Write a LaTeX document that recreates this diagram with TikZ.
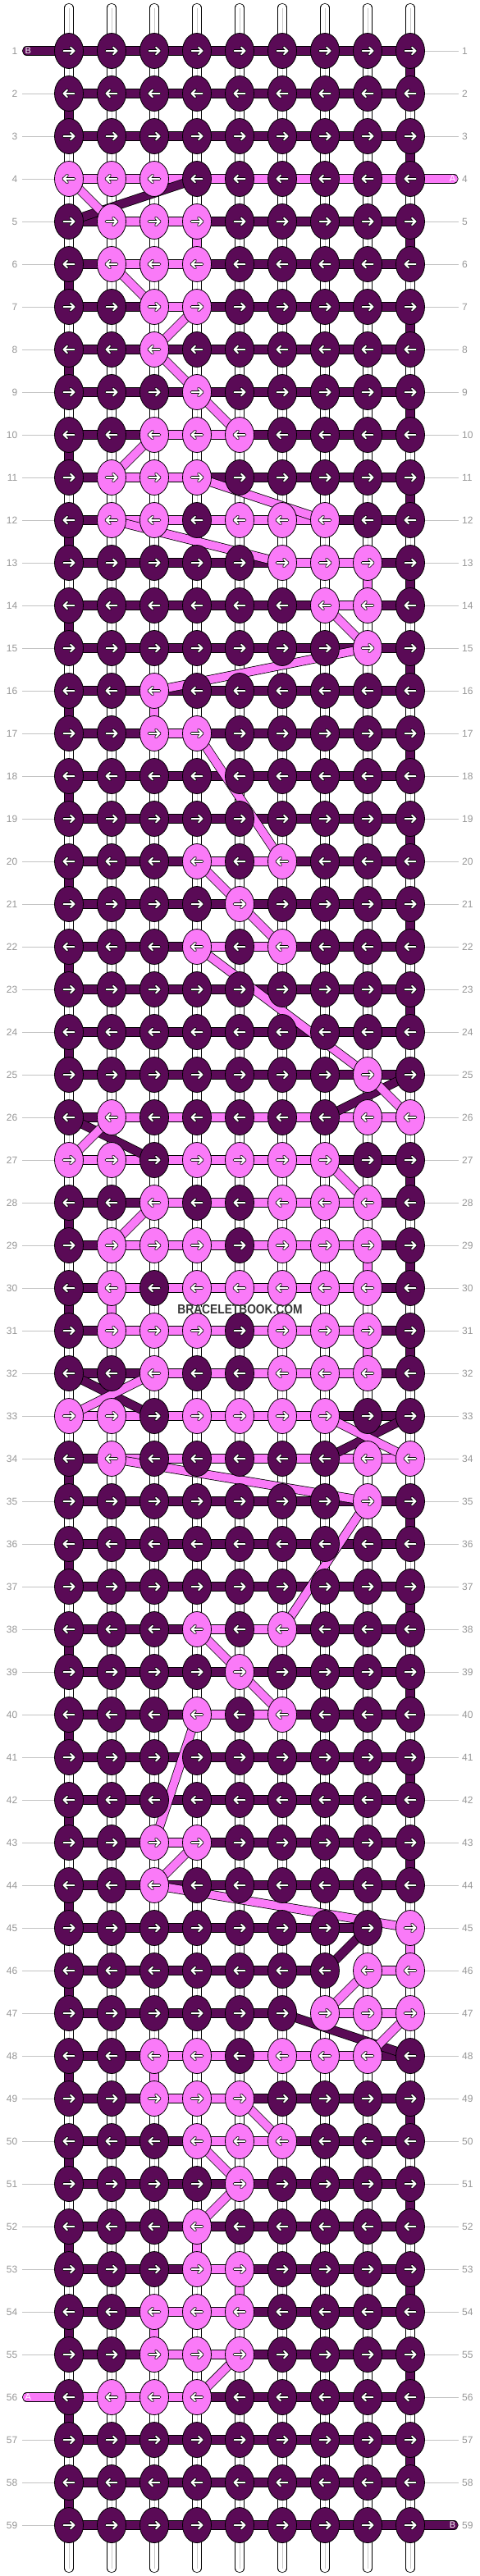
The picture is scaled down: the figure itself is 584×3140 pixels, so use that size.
\documentclass[tikz,border=0pt]{standalone}
\usepackage{fontspec}
\setmainfont{Liberation Sans}
\usepackage{graphicx}
\usetikzlibrary{shapes.geometric}
\definecolor{cD}{RGB}{90,10,86}
\definecolor{cP}{RGB}{250,122,248}
\definecolor{lblgray}{RGB}{150,150,150}
\definecolor{linegray}{RGB}{195,195,195}
\definecolor{coregray}{RGB}{200,200,200}
\definecolor{wmgray}{RGB}{55,55,55}
\pgfdeclarelayer{strings}
\pgfdeclarelayer{bars}
\pgfdeclarelayer{diagB}
\pgfdeclarelayer{diagA}
\pgfsetlayers{strings,bars,diagB,diagA,main}
\def\nonestr{none}
\tikzset{
 knot/.style={ellipse, draw=black, line width=0.8pt, minimum width=35pt, minimum height=43pt, inner sep=0pt},
 thr/.style={draw=black, line width=0.8pt, double distance=9.6pt},
 strline/.style={thr, double=white, line cap=round},
 strcore/.style={draw=coregray, line width=1pt},
 arrB/.style={draw=black, line width=3.6pt, line cap=round, line join=round},
 arrW/.style={draw=white, line width=2pt, line cap=round, line join=round},
 rowlbl/.style={text=lblgray, font=\fontsize{12}{12}\selectfont, inner sep=0pt},
 lblline/.style={draw=linegray, line width=0.8pt},
 taillbl/.style={text=white, font=\fontsize{11}{11}\selectfont, inner sep=0pt},
 wmark/.style={text=wmgray, font=\bfseries\fontsize{16}{16}\selectfont, inner sep=0pt},
}
\begin{document}
\begin{tikzpicture}[x=1pt,y=-1pt]
\useasboundingbox (0,0) rectangle (584,3140);
% vertical strings
\begin{pgfonlayer}{strings}
\foreach \c in {1,...,9} {
  \pgfmathsetmacro\xx{32+52*\c}
  \coordinate (st-\c) at (\xx,9.5);
  \coordinate (sb-\c) at (\xx,3130.5);
  \draw[strline] (st-\c) -- (sb-\c);
  \draw[strcore] (st-\c) -- (sb-\c);
}
\end{pgfonlayer}
% rows: r / knots / A run / B run
\foreach \r/\pat/\aL/\aR/\bL/\bR in {
1/{D,D,D,D,D,D,D,D,D}/0/0/1/9,
2/{D,D,D,D,D,D,D,D,D}/0/0/1/9,
3/{D,D,D,D,D,D,D,D,D}/0/0/1/9,
4/{P,P,P,D,D,D,D,D,D}/1/9/4/9,
5/{D,P,P,P,D,D,D,D,D}/2/4/1/9,
6/{D,P,P,P,D,D,D,D,D}/2/4/1/9,
7/{D,D,P,P,D,D,D,D,D}/3/4/1/9,
8/{D,D,P,D,D,D,D,D,D}/3/3/1/9,
9/{D,D,D,P,D,D,D,D,D}/4/4/1/9,
10/{D,D,P,P,P,D,D,D,D}/3/5/1/9,
11/{D,P,P,P,D,D,D,D,D}/2/4/1/9,
12/{D,P,P,D,P,P,P,D,D}/2/7/1/9,
13/{D,D,D,D,D,P,P,P,D}/6/8/1/9,
14/{D,D,D,D,D,D,P,P,D}/7/8/1/9,
15/{D,D,D,D,D,D,D,P,D}/8/8/1/9,
16/{D,D,P,D,D,D,D,D,D}/3/3/1/9,
17/{D,D,P,P,D,D,D,D,D}/3/4/1/9,
18/{D,D,D,D,D,D,D,D,D}/0/0/1/9,
19/{D,D,D,D,D,D,D,D,D}/0/0/1/9,
20/{D,D,D,P,D,P,D,D,D}/4/6/1/9,
21/{D,D,D,D,P,D,D,D,D}/5/5/1/9,
22/{D,D,D,P,D,P,D,D,D}/4/6/1/9,
23/{D,D,D,D,D,D,D,D,D}/0/0/1/9,
24/{D,D,D,D,D,D,D,D,D}/0/0/1/9,
25/{D,D,D,D,D,D,D,P,D}/8/8/1/9,
26/{D,P,D,D,D,D,D,P,P}/2/9/1/7,
27/{P,P,D,P,P,P,P,D,D}/1/7/3/9,
28/{D,D,P,D,D,P,P,P,D}/3/8/1/9,
29/{D,P,P,P,D,P,P,P,D}/2/8/1/9,
30/{D,P,D,P,P,P,P,P,D}/2/8/1/9,
31/{D,P,P,P,D,P,P,P,D}/2/8/1/9,
32/{D,D,P,D,D,P,P,P,D}/3/8/1/9,
33/{P,P,D,P,P,P,P,D,D}/1/7/3/9,
34/{D,P,D,D,D,D,D,P,P}/2/9/1/7,
35/{D,D,D,D,D,D,D,P,D}/8/8/1/9,
36/{D,D,D,D,D,D,D,D,D}/0/0/1/9,
37/{D,D,D,D,D,D,D,D,D}/0/0/1/9,
38/{D,D,D,P,D,P,D,D,D}/4/6/1/9,
39/{D,D,D,D,P,D,D,D,D}/5/5/1/9,
40/{D,D,D,P,D,P,D,D,D}/4/6/1/9,
41/{D,D,D,D,D,D,D,D,D}/0/0/1/9,
42/{D,D,D,D,D,D,D,D,D}/0/0/1/9,
43/{D,D,P,P,D,D,D,D,D}/3/4/1/9,
44/{D,D,P,D,D,D,D,D,D}/3/3/1/9,
45/{D,D,D,D,D,D,D,D,P}/9/9/1/8,
46/{D,D,D,D,D,D,D,P,P}/8/9/1/7,
47/{D,D,D,D,D,D,P,P,P}/7/9/1/6,
48/{D,D,P,P,D,P,P,P,D}/3/8/1/9,
49/{D,D,P,P,P,D,D,D,D}/3/5/1/9,
50/{D,D,D,P,P,P,D,D,D}/4/6/1/9,
51/{D,D,D,D,P,D,D,D,D}/5/5/1/9,
52/{D,D,D,P,D,D,D,D,D}/4/4/1/9,
53/{D,D,D,P,P,D,D,D,D}/4/5/1/9,
54/{D,D,P,P,P,D,D,D,D}/3/5/1/9,
55/{D,D,P,P,P,D,D,D,D}/3/5/1/9,
56/{D,P,P,P,D,D,D,D,D}/1/4/1/9,
57/{D,D,D,D,D,D,D,D,D}/0/0/1/9,
58/{D,D,D,D,D,D,D,D,D}/0/0/1/9,
59/{D,D,D,D,D,D,D,D,D}/0/0/1/9} {
  \pgfmathsetmacro\yy{10+52*\r}
  \foreach \k [count=\c] in \pat {
    \pgfmathsetmacro\xx{32+52*\c}
    \node[knot, fill=c\k] (k-\r-\c) at (\xx,\yy) {};
    \ifodd\r
      \draw[arrB, shift={(k-\r-\c.center)}] (-6.5,0) -- (6.5,0) (2,-4.3) -- (6.5,0) -- (2,4.3);
      \draw[arrW, shift={(k-\r-\c.center)}] (-6.5,0) -- (6.5,0) (2,-4.3) -- (6.5,0) -- (2,4.3);
    \else
      \draw[arrB, shift={(k-\r-\c.center)}] (6.5,0) -- (-6.5,0) (-2,-4.3) -- (-6.5,0) -- (-2,4.3);
      \draw[arrW, shift={(k-\r-\c.center)}] (6.5,0) -- (-6.5,0) (-2,-4.3) -- (-6.5,0) -- (-2,4.3);
    \fi
  }
  \node[rowlbl, anchor=east] (ll-\r) at (21.5,\yy) {\r};
  \node[rowlbl, anchor=west] (rl-\r) at (563,\yy) {\r};
  \begin{pgfonlayer}{strings}
    \ifnum\r=1 \else\ifnum\r=56 \else
      \draw[lblline, shorten <=5.5pt] (ll-\r) -- (k-\r-1);
    \fi\fi
    \ifnum\r=4 \else\ifnum\r=59 \else
      \draw[lblline, shorten >=4.5pt] (k-\r-9) -- (rl-\r);
    \fi\fi
  \end{pgfonlayer}
  \begin{pgfonlayer}{bars}
  \foreach \c in {1,...,8} {
    \pgfmathtruncatemacro\cn{\c+1}
    \def\segcol{none}
    \ifnum\c<\bL\relax\else\ifnum\cn>\bR\relax\else\def\segcol{cD}\fi\fi
    \ifnum\c<\aL\relax\else\ifnum\cn>\aR\relax\else\def\segcol{cP}\fi\fi
    \ifx\segcol\nonestr\else
      \draw[thr, double=\segcol] (k-\r-\c.center) -- (k-\r-\cn.center);
    \fi
  }
  \end{pgfonlayer}
}
% vertical thread connectors, tails, watermark patch
\begin{pgfonlayer}{bars}
\foreach \r/\c in {1/9,2/1,3/9,5/9,6/1,7/9,8/1,9/9,10/1,11/9,12/1,13/9,14/1,15/9,16/1,17/9,18/1,19/9,20/1,21/9,22/1,23/9,24/1,27/9,28/1,29/9,30/1,31/9,34/1,35/9,36/1,37/9,38/1,39/9,40/1,41/9,42/1,43/9,44/1,46/1,48/1,49/9,50/1,51/9,52/1,53/9,54/1,55/9,56/1,57/9,58/1} {
  \pgfmathtruncatemacro\rn{\r+1}
  \draw[thr, double=cD] (k-\r-\c.center) -- (k-\rn-\c.center);
}
\foreach \r/\c in {5/4,13/8,16/3,29/8,30/2,31/8,45/9,48/3,52/4,53/5,54/3} {
  \pgfmathtruncatemacro\rn{\r+1}
  \draw[thr, double=cP] (k-\r-\c.center) -- (k-\rn-\c.center);
}
\coordinate (tB1) at (32.6,62);
\coordinate (tA4) at (553,218);
\coordinate (tA56) at (32.6,2922);
\coordinate (tB59) at (553,3078);
\draw[thr, double=cD, line cap=round] (tB1) -- (k-1-1.center);
\draw[thr, double=cP, line cap=round] (k-4-9.center) -- (tA4);
\draw[thr, double=cP, line cap=round] (tA56) -- (k-56-1.center);
\draw[thr, double=cD, line cap=round] (k-59-9.center) -- (tB59);
\fill[white] (228,1592.5) rectangle (356,1599.5);
\end{pgfonlayer}
% carried thread diagonals
\begin{pgfonlayer}{diagB}
\foreach \ra/\ca/\rb/\cb in {4/4/5/1,25/9/26/7,26/1/27/3,32/1/33/3,33/9/34/7,45/8/46/7,47/6/48/9}
  \draw[thr, double=cD] (k-\ra-\ca.center) -- (k-\rb-\cb.center);
\end{pgfonlayer}
\begin{pgfonlayer}{diagA}
\foreach \ra/\ca/\rb/\cb in {4/1/5/2,6/2/7/3,7/4/8/3,8/3/9/4,9/4/10/5,10/3/11/2,11/4/12/7,12/2/13/6,14/7/15/8,15/8/16/3,17/4/20/6,20/4/21/5,21/5/22/6,22/4/25/8,25/8/26/9,26/2/27/1,27/7/28/8,28/3/29/2,32/3/33/1,33/7/34/9,34/2/35/8,35/8/38/6,38/4/39/5,39/5/40/6,40/4/43/3,43/4/44/3,44/3/45/9,46/8/47/7,47/9/48/8,49/5/50/6,50/4/51/5,51/5/52/4,55/5/56/4}
  \draw[thr, double=cP] (k-\ra-\ca.center) -- (k-\rb-\cb.center);
\end{pgfonlayer}
% tail letters
\node[taillbl, anchor=west] (lB1) at (30.5,62) {B};
\node[taillbl, anchor=east] (lA4) at (555.5,218) {A};
\node[taillbl, anchor=west] (lA56) at (30.5,2922) {A};
\node[taillbl, anchor=east] (lB59) at (555.5,3078) {B};
% watermark
\node[wmark] (wm) at (292.5,1596) {\scalebox{0.86}[1]{BRACELETBOOK.COM}};
\end{tikzpicture}
\end{document}
